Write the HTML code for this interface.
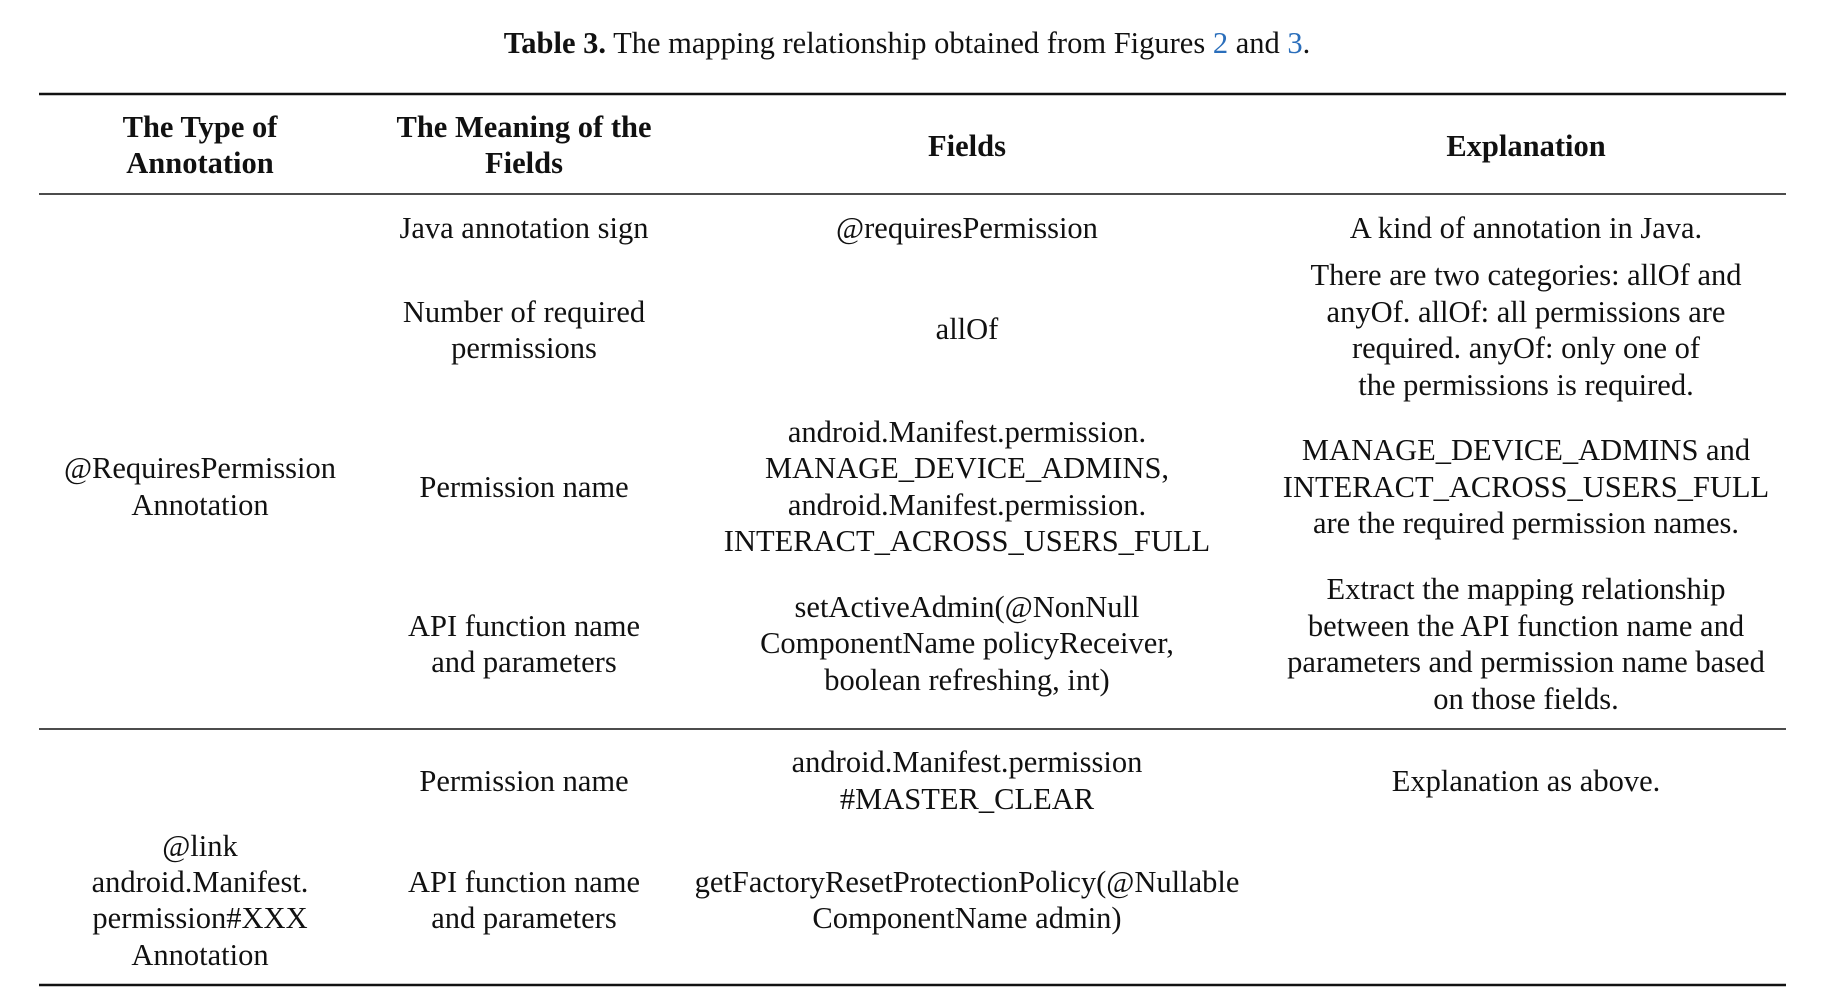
<!DOCTYPE html>
<html><head><meta charset="utf-8"><style>
html,body{margin:0;padding:0;background:#fff;}
svg{display:block;}
text{font-family:"Liberation Serif",serif;font-size:30.5px;fill:#111;text-anchor:middle;}
.b{font-weight:bold;}
</style></head><body>
<svg width="1844" height="1007" viewBox="0 0 1844 1007">
<text x="907" y="53"><tspan class="b">Table 3.</tspan> The mapping relationship obtained from Figures <tspan fill="#2a6ebb">2</tspan> and <tspan fill="#2a6ebb">3</tspan>.</text>
<line x1="39" x2="1786" y1="94" y2="94" stroke="#111" stroke-width="2.5"/>
<line x1="39" x2="1786" y1="194" y2="194" stroke="#111" stroke-width="1.5"/>
<line x1="39" x2="1786" y1="729" y2="729" stroke="#111" stroke-width="1.5"/>
<line x1="39" x2="1786" y1="985" y2="985" stroke="#111" stroke-width="2.5"/>
<g>
<text class="b" x="200" y="137">The Type of</text><text class="b" x="200" y="173">Annotation</text>
<text class="b" x="524" y="137">The Meaning of the</text><text class="b" x="524" y="173">Fields</text>
<text class="b" x="967" y="156">Fields</text>
<text class="b" x="1526" y="156">Explanation</text>
</g>
<g>
<text x="200" y="478">@RequiresPermission</text><text x="200" y="515">Annotation</text>
<text x="524" y="238">Java annotation sign</text>
<text x="967" y="238">@requiresPermission</text>
<text x="1526" y="238">A kind of annotation in Java.</text>
<text x="524" y="322">Number of required</text><text x="524" y="358">permissions</text>
<text x="967" y="339">allOf</text>
<text x="1526" y="285">There are two categories: allOf and</text>
<text x="1526" y="322">anyOf. allOf: all permissions are</text>
<text x="1526" y="358">required. anyOf: only one of</text>
<text x="1526" y="395">the permissions is required.</text>
<text x="524" y="497">Permission name</text>
<text x="967" y="442">android.Manifest.permission.</text>
<text x="967" y="478">MANAGE_DEVICE_ADMINS,</text>
<text x="967" y="515">android.Manifest.permission.</text>
<text x="967" y="551">INTERACT_ACROSS_USERS_FULL</text>
<text x="1526" y="460">MANAGE_DEVICE_ADMINS and</text>
<text x="1526" y="497">INTERACT_ACROSS_USERS_FULL</text>
<text x="1526" y="533">are the required permission names.</text>
<text x="524" y="636">API function name</text><text x="524" y="672">and parameters</text>
<text x="967" y="617">setActiveAdmin(@NonNull</text>
<text x="967" y="653">ComponentName policyReceiver,</text>
<text x="967" y="690">boolean refreshing, int)</text>
<text x="1526" y="599">Extract the mapping relationship</text>
<text x="1526" y="636">between the API function name and</text>
<text x="1526" y="672">parameters and permission name based</text>
<text x="1526" y="709">on those fields.</text>
</g>
<g>
<text x="200" y="856">@link</text><text x="200" y="892">android.Manifest.</text>
<text x="200" y="928">permission#XXX</text><text x="200" y="965">Annotation</text>
<text x="524" y="791">Permission name</text>
<text x="967" y="772">android.Manifest.permission</text>
<text x="967" y="809">#MASTER_CLEAR</text>
<text x="1526" y="791">Explanation as above.</text>
<text x="524" y="892">API function name</text><text x="524" y="928">and parameters</text>
<text x="967" y="892">getFactoryResetProtectionPolicy(@Nullable</text>
<text x="967" y="928">ComponentName admin)</text>
</g>
</svg>
</body></html>
